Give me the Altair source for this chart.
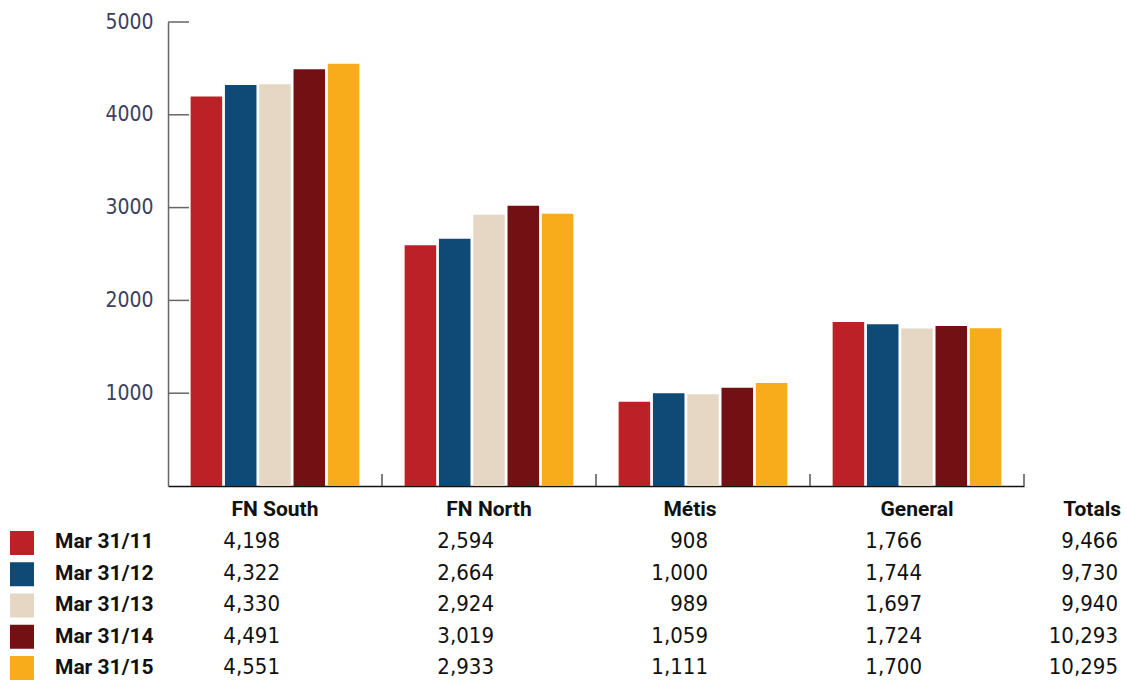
import altair as alt
import pandas as pd

# Caseload by region, five year-end snapshots
categories = ["FN South", "FN North", "Métis", "General"]
periods = ["Mar 31/11", "Mar 31/12", "Mar 31/13", "Mar 31/14", "Mar 31/15"]
fn_south = [4198, 4322, 4330, 4491, 4551]
fn_north = [2594, 2664, 2924, 3019, 2933]
metis = [908, 1000, 989, 1059, 1111]
general = [1766, 1744, 1697, 1724, 1700]
totals = [9466, 9730, 9940, 10293, 10295]
y_ticks = [1000, 2000, 3000, 4000, 5000]

colors = ["#BD2128", "#0E4A75", "#E5D7C4", "#721013", "#F8AB1B"]

W, H = 856, 464
NARROW = "Noto Sans ExtraCondensed, Noto Sans Condensed, DejaVu Sans Condensed, sans-serif"
BOLD = "Roboto, Liberation Sans, sans-serif"

records = []
for cat, series in zip(categories, [fn_south, fn_north, metis, general]):
    for p, v in zip(periods, series):
        records.append({"category": cat, "period": p, "value": v, "label": f"{v:,}"})
bars_df = pd.DataFrame(records)
totals_df = pd.DataFrame({"period": periods, "label": [f"{v:,}" for v in totals]})
cats_df = pd.DataFrame({"category": categories})
ticks_df = pd.DataFrame({"value": y_ticks})
periods_df = pd.DataFrame({"period": periods})

x_scale = alt.Scale(domain=categories, paddingInner=0, paddingOuter=0)
x_axis = alt.Axis(title=None, labels=False, ticks=False, domainColor="#111", domainWidth=1.5)
y_scale = alt.Scale(domain=[0, 5000], nice=False, zero=True)
y_axis = alt.Axis(
    title=None, values=y_ticks, format="d", ticks=False, tickSize=0, grid=False, labelPadding=15,
    domainColor="#666", domainWidth=1.5, labelFont=NARROW, labelFontSize=21,
    labelColor="#3B405E",
)
color_enc = alt.Color("period:N", scale=alt.Scale(domain=periods, range=colors), legend=None)

bars = alt.Chart(bars_df).mark_bar().encode(
    x=alt.X("category:N", sort=categories, scale=x_scale, axis=x_axis),
    xOffset=alt.XOffset("period:N", sort=periods,
                        scale=alt.Scale(domain=periods, paddingInner=0.08, paddingOuter=0.66)),
    y=alt.Y("value:Q", scale=y_scale, axis=y_axis),
    color=color_enc,
)

# inward-pointing ticks on the value axis
y_tick_marks = alt.Chart(ticks_df).mark_rule(color="#666", strokeWidth=1.5).encode(
    y=alt.Y("value:Q", scale=y_scale, axis=y_axis),
    x=alt.value(0),
    x2=alt.value(21),
)

# upward ticks at the category boundaries
x_tick_marks = alt.Chart(cats_df).mark_rule(color="#555", strokeWidth=1.5).encode(
    x=alt.X("category:N", sort=categories, scale=x_scale, axis=x_axis, bandPosition=1),
    y=alt.value(H - 12),
    y2=alt.value(H),
)

plot = alt.layer(bars, y_tick_marks, x_tick_marks)

row_scale = alt.Scale(type="point", domain=periods, range=[526, 652], padding=0)
square_scale = alt.Scale(type="point", domain=periods, range=[521, 646], padding=0)

header_style = dict(font=BOLD, fontWeight="bold", fontSize=21, color="#111", baseline="alphabetic")


def header_layer(keep, dx):
    return alt.Chart(cats_df).transform_filter(keep).mark_text(
        align="center", dx=dx, **header_style
    ).encode(
        x=alt.X("category:N", sort=categories, scale=x_scale, axis=x_axis),
        y=alt.value(494),
        text="category:N",
    )


headers = header_layer(alt.datum.category != "Métis", 0)
metis_header = header_layer(alt.datum.category == "Métis", -13)

totals_header = alt.Chart(pd.DataFrame({"t": ["Totals"]})).mark_text(
    align="right", **header_style
).encode(x=alt.value(953), y=alt.value(494), text="t:N")

cell_values = alt.Chart(bars_df).mark_text(
    font=NARROW, fontSize=22, color="#111", baseline="alphabetic", align="right", dx=5
).encode(
    x=alt.X("category:N", sort=categories, scale=x_scale, axis=x_axis),
    y=alt.Y("period:N", scale=row_scale, axis=None),
    text="label:N",
)

total_values = alt.Chart(totals_df).mark_text(
    font=NARROW, fontSize=22, color="#111", baseline="alphabetic", align="right"
).encode(
    x=alt.value(950),
    y=alt.Y("period:N", scale=row_scale, axis=None),
    text="label:N",
)

row_labels = alt.Chart(periods_df).mark_text(
    align="left", **header_style
).encode(
    x=alt.value(-113),
    y=alt.Y("period:N", scale=row_scale, axis=None),
    text="period:N",
)

swatches = alt.Chart(periods_df).mark_square(size=576, opacity=1, filled=True).encode(
    x=alt.value(-146),
    y=alt.Y("period:N", scale=square_scale, axis=None),
    color=color_enc,
)

chart = alt.layer(
    plot, headers, metis_header, totals_header, cell_values, total_values, row_labels, swatches
).resolve_scale(y="independent").properties(
    width=W,
    height=H,
    background="white",
    autosize=alt.AutoSizeParams(type="none"),
    padding={"left": 168, "top": 22, "right": 102, "bottom": 196},
).configure_view(stroke=None)

chart.save("out.html", embed_options={"renderer": "svg", "actions": False})
